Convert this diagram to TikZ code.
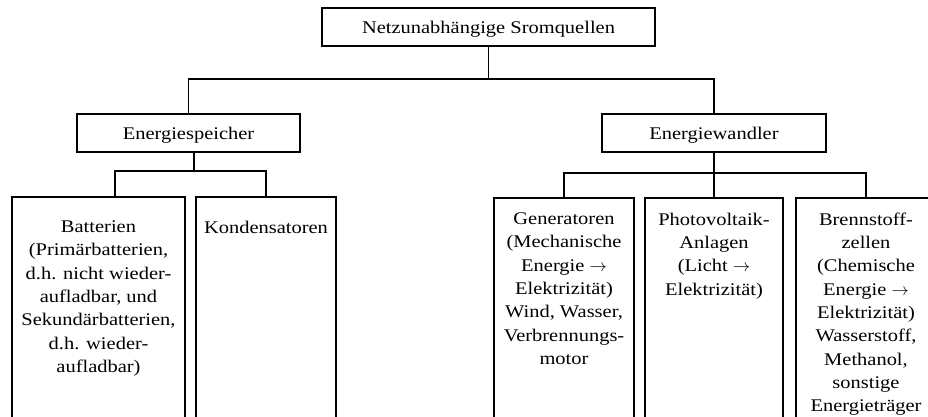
\documentclass[tikz,border=0pt]{standalone}
\usepackage{fontspec}
\setmainfont[FakeStretch=1.15]{Liberation Serif}
\newcommand{\tto}{$\rightarrow$}
\begin{document}
\begin{tikzpicture}[x=1pt,y=-1pt, line width=1.6pt,
  box/.style={draw, line width=1.6pt, inner sep=0pt, minimum height=38pt, text depth=0pt,
    font=\fontsize{17.8}{23.3}\selectfont},
  sub/.style={draw, line width=1.6pt, inner sep=0pt, minimum height=280pt, anchor=north},
  txt/.style={align=center, inner sep=0pt, anchor=north, font=\fontsize{17.8}{23.3}\selectfont}]
\useasboundingbox (0,0) rectangle (928,417);
\clip (0,0) rectangle (928,417);
% main boxes
\node[box, minimum width=333pt] (root) at (488.5,27) {Netzunabhängige Sromquellen};
\node[box, minimum width=223pt] (es) at (188.5,133) {Energiespeicher};
\node[box, minimum width=224pt] (ew) at (714,133) {Energiewandler};
% bottom boxes
\node[sub, minimum width=173pt] (bat) at (98.5,196) {};
\node[sub, minimum width=140pt] (kon) at (266,196) {};
\node[sub, minimum width=140pt] (gen) at (564,197) {};
\node[sub, minimum width=138pt] (pv) at (714,197) {};
\node[sub, minimum width=140pt] (bz) at (866,197) {};
% texts
\node[txt] (batt) at ([yshift=-24pt]bat.north) {Batterien\\(Primärbatterien,\\d.h. nicht wieder-\\aufladbar, und\\Sekundärbatterien,\\d.h. wieder-\\aufladbar)};
\node[txt] (kont) at ([yshift=-24pt]kon.north) {Kondensatoren};
\node[txt] (gent) at ([yshift=-15pt]gen.north) {Generatoren\\(Mechanische\\Energie \tto\\Elektrizität)\\Wind, Wasser,\\Verbrennungs-\\motor};
\node[txt] (pvt) at ([yshift=-15pt]pv.north) {Photovoltaik-\\Anlagen\\(Licht \tto\\Elektrizität)};
\node[txt] (bzt) at ([yshift=-15pt]bz.north) {Brennstoff-\\zellen\\(Chemische\\Energie \tto\\Elektrizität)\\Wasserstoff,\\Methanol,\\sonstige\\Energieträger};
% connectors
\coordinate (j1) at (488.5,79);
\coordinate (j2) at (194,171);
\coordinate (j3) at (714,173);
\draw (root.south) -- (j1);
\draw (es.north) |- (j1) -| (ew.north);
\draw ([xshift=5.5pt]es.south) -- (j2);
\draw ([xshift=16.5pt]bat.north) |- (j2) -| (kon.north);
\draw (ew.south) -- (j3);
\draw (gen.north) |- (j3) -| (bz.north);
\draw (pv.north) -- (j3);
\end{tikzpicture}
\end{document}
